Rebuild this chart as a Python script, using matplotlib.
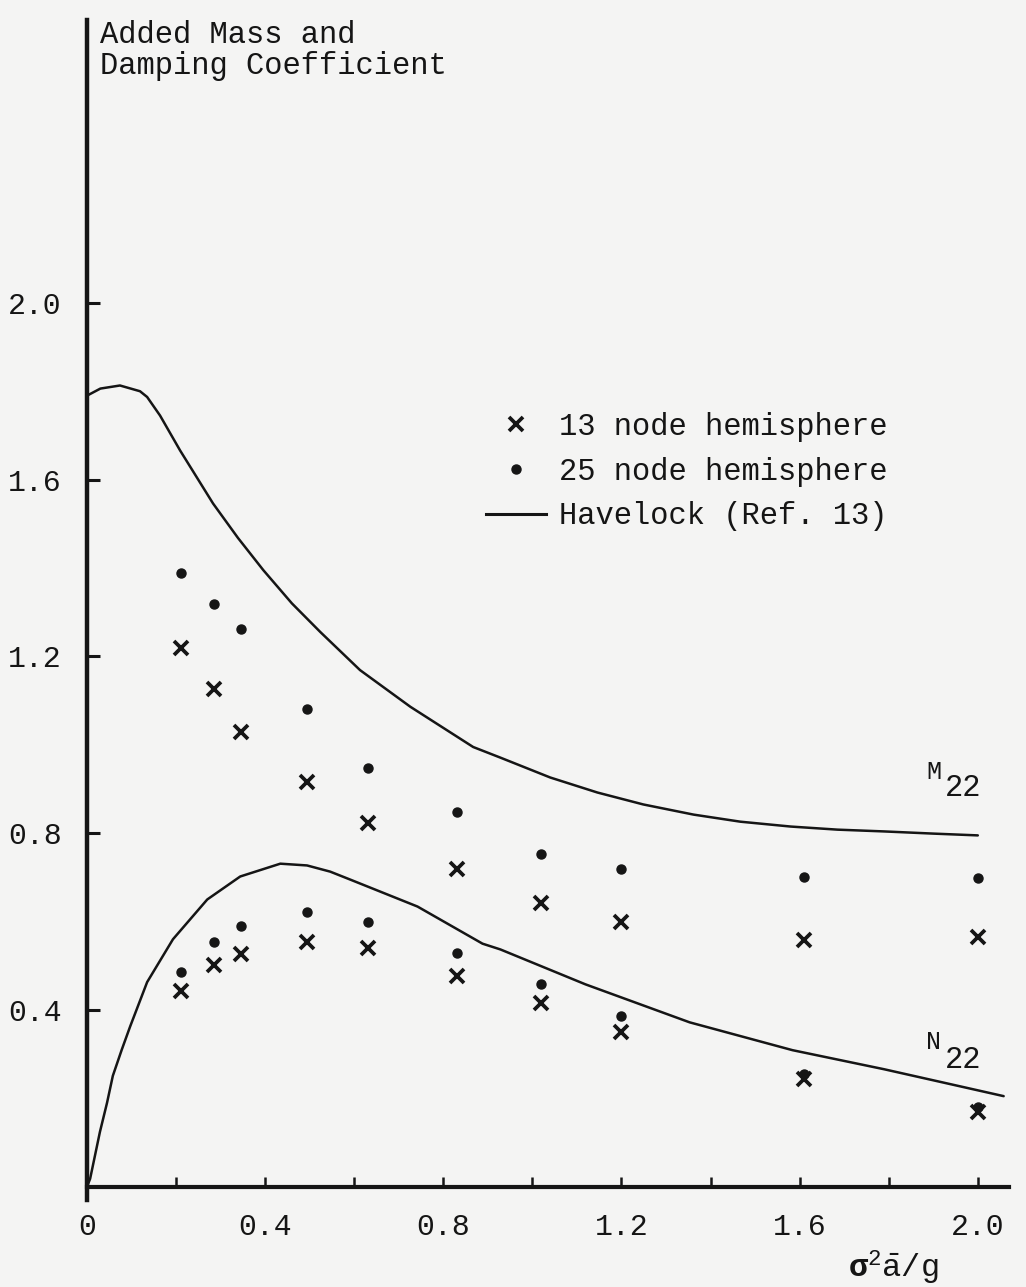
import numpy as np
import matplotlib.pyplot as plt
from matplotlib.lines import Line2D

plt.rcParams['font.family'] = ['Liberation Mono', 'DejaVu Sans Mono']
plt.rcParams['mathtext.fontset'] = 'custom'
plt.rcParams['mathtext.rm'] = 'Liberation Mono'
plt.rcParams['mathtext.it'] = 'Liberation Mono'
plt.rcParams['mathtext.bf'] = 'Liberation Mono:bold'

# Havelock (Ref. 13) curves
havelock_m_x = [0.0, 0.03, 0.074, 0.119, 0.135, 0.164, 0.209, 0.283, 0.339, 0.396,
                0.46, 0.524, 0.613, 0.726, 0.867, 0.928, 1.04, 1.146, 1.249,
                1.362, 1.467, 1.58, 1.685, 1.789, 1.901, 2.0]
havelock_m_y = [1.79, 1.806, 1.813, 1.80, 1.787, 1.745, 1.666, 1.546, 1.468, 1.395,
                1.32, 1.255, 1.169, 1.086, 0.995, 0.971, 0.926, 0.892, 0.865,
                0.842, 0.826, 0.815, 0.808, 0.804, 0.799, 0.795]
havelock_n_x = [0.0, 0.007, 0.029, 0.045, 0.058, 0.078, 0.097, 0.135, 0.193, 0.27,
                0.344, 0.434, 0.494, 0.546, 0.591, 0.742, 0.888, 0.928, 1.119,
                1.353, 1.584, 1.789, 1.917, 2.058]
havelock_n_y = [0.0, 0.018, 0.124, 0.19, 0.251, 0.31, 0.363, 0.463, 0.56, 0.65,
                0.702, 0.731, 0.727, 0.713, 0.695, 0.634, 0.55, 0.537, 0.458,
                0.372, 0.309, 0.266, 0.237, 0.205]

# computed points
freq = [0.21, 0.285, 0.345, 0.495, 0.63, 0.83, 1.02, 1.2, 1.61, 2.0]
m22_13 = [1.219, 1.126, 1.029, 0.916, 0.824, 0.720, 0.641, 0.598, 0.558, 0.564]
n22_13 = [0.442, 0.501, 0.526, 0.553, 0.540, 0.476, 0.415, 0.350, 0.244, 0.169]
m22_25 = [1.388, 1.318, 1.262, 1.081, 0.948, 0.849, 0.754, 0.719, 0.700, 0.698]
n22_25 = [0.485, 0.553, 0.589, 0.621, 0.598, 0.528, 0.458, 0.387, 0.255, 0.181]

ink = '#151515'
paper = '#f4f4f3'

fig = plt.figure(figsize=(10.26, 12.87), dpi=100, facecolor=paper)
ax = fig.add_axes([87 / 1026, 87 / 1287, 922 / 1026, 1180 / 1287])
ax.set_facecolor(paper)

for xx, yy in ((havelock_m_x, havelock_m_y), (havelock_n_x, havelock_n_y)):
    ax.plot(xx, yy, color=ink, lw=1.8, solid_capstyle='round', solid_joinstyle='round')
for yy in (m22_13, n22_13):
    ax.plot(freq, yy, ls='none', marker='x', ms=9.5, mew=2.7, color=ink)
for yy in (m22_25, n22_25):
    ax.plot(freq, yy, ls='none', marker='o', ms=6.5, color=ink)

ax.set_xlim(0, 2.07)
ax.set_ylim(-0.03, 2.64)
ax.spines['top'].set_visible(False)
ax.spines['right'].set_visible(False)
ax.spines['bottom'].set_position(('data', 0))
ax.spines['bottom'].set_linewidth(3)
ax.spines['left'].set_linewidth(3.2)
for s in ('bottom', 'left'):
    ax.spines[s].set_color(ink)

xt = np.round(np.arange(0, 2.01, 0.2), 1)
ax.set_xticks(xt)
ax.set_xticklabels(['0' if v == 0 else (f'{v:.1f}' if round(v / 0.4, 6) % 1 == 0 else '') for v in xt])
ax.set_yticks([0.4, 0.8, 1.2, 1.6, 2.0])
ax.set_yticklabels(['0.4', '0.8', '1.2', '1.6', '2.0'])
ax.tick_params(axis='x', direction='in', length=7, width=1.8, pad=19, labelsize=21.5, colors=ink)
ax.tick_params(axis='y', direction='in', length=9, width=2.2, pad=18, labelsize=21.5, colors=ink)

ax.text(1.81, -0.183, r'$\mathbf{\sigma}^{2}\bar{\mathrm{a}}/\mathrm{g}$', fontsize=23,
        ha='center', va='center', color=ink, clip_on=False)

ax.text(1.901, 0.939, 'M', fontsize=18, ha='center', va='center', color=ink)
ax.text(1.966, 0.903, '22', fontsize=22, ha='center', va='center', color=ink)
ax.text(1.901, 0.328, 'N', fontsize=18, ha='center', va='center', color=ink)
ax.text(1.966, 0.287, '22', fontsize=22, ha='center', va='center', color=ink)

fig.text(100 / 1026, 1 - 20 / 1287, 'Added Mass and\nDamping Coefficient', fontsize=22,
         ha='left', va='top', linespacing=1.05, color=ink)

handles = [Line2D([], [], ls='none', marker='x', ms=9.5, mew=2.7, color=ink),
           Line2D([], [], ls='none', marker='o', ms=6.5, color=ink),
           Line2D([], [], color=ink, lw=2.2)]
labels = ['13 node hemisphere', '25 node hemisphere', 'Havelock (Ref. 13)']
fig.legend(handles, labels, loc='upper left', bbox_to_anchor=(486 / 1026, 1 - 412 / 1287),
           frameon=False, fontsize=22, handlelength=1.95, handletextpad=0.45,
           labelspacing=0.48, borderpad=0, borderaxespad=0, labelcolor=ink)

fig.savefig('out.png', dpi=100, facecolor=paper)
